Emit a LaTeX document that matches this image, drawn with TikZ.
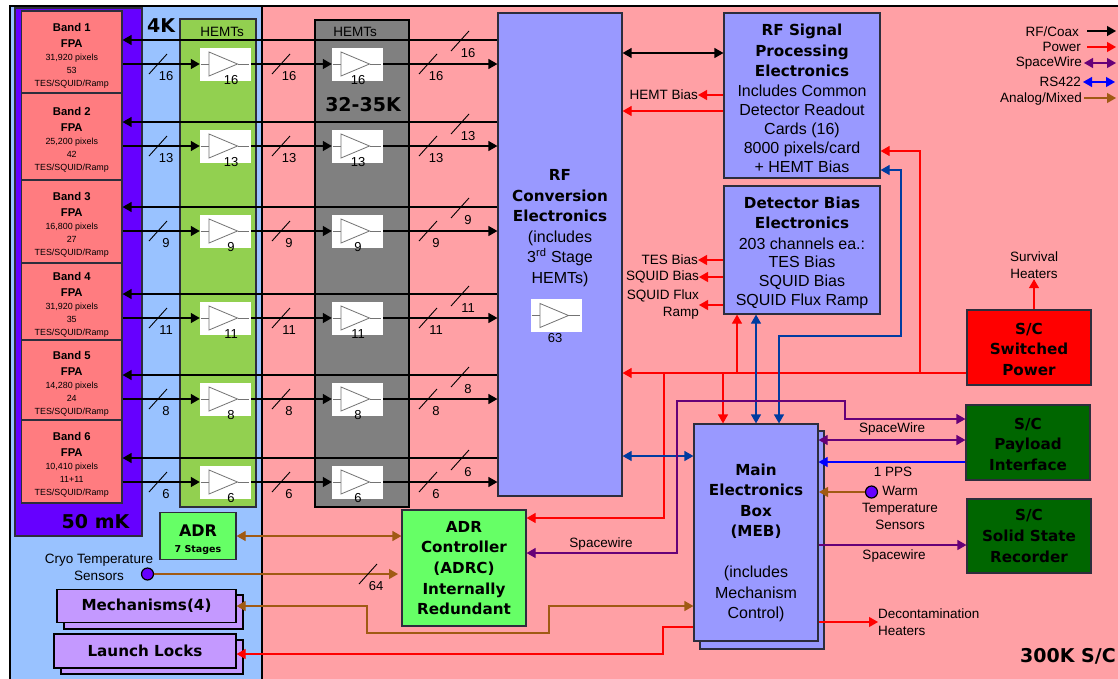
\documentclass[tikz,border=0pt]{standalone}
\usepackage{fontspec}
\setmainfont{Liberation Sans}
\newfontfamily\headfont{DejaVu Sans}
\usetikzlibrary{arrows.meta}

\definecolor{coldblue}{RGB}{153,194,255}
\definecolor{warmpink}{RGB}{255,160,165}
\definecolor{fiftymk}{RGB}{102,0,255}
\definecolor{bandred}{RGB}{255,124,128}
\definecolor{hemtgreen}{RGB}{146,208,80}
\definecolor{hemtgray}{RGB}{128,128,128}
\definecolor{boxblue}{RGB}{153,153,255}
\definecolor{adrgreen}{RGB}{102,255,102}
\definecolor{scgreen}{RGB}{0,102,0}
\definecolor{mechpurple}{RGB}{196,153,255}
\definecolor{edgegray}{RGB}{45,45,60}
\definecolor{brownline}{RGB}{160,90,20}
\definecolor{purpleline}{RGB}{102,0,120}
\definecolor{navyline}{RGB}{0,60,160}

\tikzset{
    >={Triangle[length=9pt,width=10pt]},
    panel/.style={draw=black, line width=1.2pt, inner sep=0pt},
    hwbox/.style={draw=edgegray, line width=1.2pt, inner sep=0pt, align=center},
    bandbox/.style={hwbox, fill=bandred, minimum width=100.5, font=\fontsize{8.9}{13}\selectfont},
    bluebox/.style={hwbox, fill=boxblue, minimum width=124},
    boxtext/.style={inner sep=0pt, align=center, font=\fontsize{16}{18.9}\selectfont},
    scbox/.style={hwbox, minimum width=124, font=\fontsize{15.2}{20.7}\headfont\bfseries},
    mechbox/.style={hwbox, draw=black, fill=mechpurple, font=\fontsize{15.2}{18}\headfont\bfseries},
    tempname/.style={inner sep=0pt, font=\fontsize{19}{20}\headfont\bfseries},
    textlabel/.style={inner sep=0pt, align=center, font=\fontsize{13.5}{17}\selectfont},
    cntlabel/.style={inner sep=0pt, font=\fontsize{13}{14}\selectfont},
    sensor/.style={circle, draw=black, line width=1.2pt, fill=fiftymk, minimum size=12, inner sep=0pt},
    ampbox/.style={fill=white, minimum width=51, minimum height=33, inner sep=0pt},
    ampline/.style={draw=black!55, line width=0.8pt},
    rfline/.style={draw=black, line width=1.3pt},
    pwrline/.style={draw=red, line width=1.2pt},
    wireline/.style={draw=purpleline, line width=1.2pt},
    navy/.style={draw=navyline, line width=1.2pt},
    rsline/.style={draw=blue, line width=1.2pt},
    mixline/.style={draw=brownline, line width=1.2pt},
    hemtamp/.pic={
        \node[ampbox] (-box) at (0,0) {};
        \draw[ampline] (-16.5,-12) -- (12,0) -- (-16.5,12) -- cycle;
        \draw[ampline] (-25,0) -- (-16.5,0);
        \draw[ampline] (12,0) -- (23,0);
    },
    bustick/.pic={
        \draw[black, line width=0.9pt] (-9,10) -- (9,-10);
        \node[cntlabel] (-num) at (8,12) {#1};
    }
}

\newcommand{\bandhead}[1]{{\fontsize{11.3}{13}\selectfont\bfseries #1}}
\newcommand{\bandtop}{\rule{0pt}{15pt}}
\newcommand{\hd}[1]{{\fontsize{15.2}{20}\headfont\bfseries\selectfont #1}}

\begin{document}
\begin{tikzpicture}[x=1pt, y=-1pt]
    \useasboundingbox (0,0) rectangle (1118,678);

    % temperature zones
    \node[panel, fill=warmpink, minimum width=876, minimum height=678] (warm) at (700,345) {};
    \node[panel, fill=coldblue, minimum width=252, minimum height=678] (cold) at (136,345) {};
    \node[hwbox, fill=fiftymk, minimum width=127, minimum height=528] (mk) at (78.5,272) {};
    \node[hwbox, fill=hemtgreen, minimum width=76, minimum height=488] (hemta) at (218,263) {};
    \node[hwbox, draw=black, fill=hemtgray, minimum width=94, minimum height=487] (hemtb) at (362,263.5) {};
    \node[tempname] (mklabel) at (95.5,522) {50 mK};
    \node[tempname] (fourk) at (161,26) {4K};
    \node[tempname] (midk) at (363,105) {32-35K};
    \node[tempname] (roomk) at (1068,656) {300K S/C};
    \node[textlabel] (hemtatext) at (222,32) {HEMTs};
    \node[textlabel] (hemtbtext) at (355,32) {HEMTs};

    % focal planes
    \node[bandbox, minimum height=82] (band1) at (71.75,52) {\bandtop\bandhead{Band 1}\\[3pt] \bandhead{FPA}\\ 31,920 pixels\\ 53\\ TES/SQUID/Ramp};
    \node[bandbox, minimum height=87] (band2) at (71.75,136.5) {\bandtop\bandhead{Band 2}\\[3pt] \bandhead{FPA}\\ 25,200 pixels\\ 42\\ TES/SQUID/Ramp};
    \node[bandbox, minimum height=83] (band3) at (71.75,221.5) {\bandtop\bandhead{Band 3}\\[3pt] \bandhead{FPA}\\ 16,800 pixels\\ 27\\ TES/SQUID/Ramp};
    \node[bandbox, minimum height=77] (band4) at (71.75,301.5) {\bandtop\bandhead{Band 4}\\[3pt] \bandhead{FPA}\\ 31,920 pixels\\ 35\\ TES/SQUID/Ramp};
    \node[bandbox, minimum height=80] (band5) at (71.75,380) {\bandtop\bandhead{Band 5}\\[3pt] \bandhead{FPA}\\ 14,280 pixels\\ 24\\ TES/SQUID/Ramp};
    \node[bandbox, minimum height=83] (band6) at (71.75,461.5) {\bandtop\bandhead{Band 6}\\[3pt] \bandhead{FPA}\\ 10,410 pixels\\ 11+11\\ TES/SQUID/Ramp};

    % electronics
    \node[bluebox, minimum height=483] (rfconv) at (560,254.5) {};
    \node[boxtext] (rfconvtext) at (560,228) {\hd{RF}\\[1.6pt] \hd{Conversion}\\[1.6pt] \hd{Electronics}\\[1.6pt] (includes\\[1.6pt] 3\textsuperscript{rd} Stage\\[1.6pt] HEMTs)};
    \node[bluebox, minimum width=156, minimum height=165] (rfsig) at (802,95.5) {};
    \node[boxtext] (rfsigtext) at (802,98.5) {\hd{RF Signal}\\[1.4pt] \hd{Processing}\\[1.4pt] \hd{Electronics}\\[1.4pt] Includes Common\\ Detector Readout\\ Cards (16)\\ 8000 pixels/card\\ + HEMT Bias};
    \node[bluebox, minimum width=156, minimum height=128] (detb) at (802,250) {};
    \node[boxtext] (detbtext) at (802,253) {\hd{Detector Bias}\\[1.4pt] \hd{Electronics}\\[1.4pt] 203 channels ea.:\\ TES Bias\\ SQUID Bias\\ SQUID Flux Ramp};
    \node[bluebox, minimum height=218] (mebback) at (762,540) {};
    \node[bluebox, minimum height=217] (meb) at (756,532.5) {};
    \node[boxtext] (mebtext) at (756,543) {\hd{Main}\\[1.6pt] \hd{Electronics}\\[1.6pt] \hd{Box}\\[1.6pt] \hd{(MEB)}\\[22pt] (includes\\[1.6pt] Mechanism\\[1.6pt] Control)};
    \node[scbox, fill=red, minimum height=75] (switched) at (1029,347.5) {\rule{0pt}{15pt}S/C\\ Switched\\ Power};
    \node[scbox, fill=scgreen, minimum height=75] (payload) at (1028,442.5) {\rule{0pt}{15pt}S/C\\ Payload\\ Interface};
    \node[scbox, fill=scgreen, minimum height=74] (ssr) at (1029,536) {S/C\\ Solid State\\ Recorder};
    \node[scbox, fill=adrgreen, minimum height=116] (adrc) at (464,568) {ADR\\ Controller\\ (ADRC)\\ Internally\\ Redundant};
    \node[scbox, fill=adrgreen, minimum width=76, minimum height=47] (adr) at (198,536) {\rule{0pt}{19pt}{\fontsize{16}{16}\selectfont ADR}\\[-4pt] {\fontsize{9.5}{11}\selectfont 7 Stages}};
    \node[mechbox, minimum width=179, minimum height=34] (mechback) at (153.5,612) {};
    \node[mechbox, minimum width=179, minimum height=33] (mech) at (146.5,606) {Mechanisms(4)};
    \node[mechbox, minimum width=182, minimum height=34] (lockback) at (152,657) {};
    \node[mechbox, minimum width=182, minimum height=34] (lock) at (145,651) {Launch Locks};

    % amplifiers
    \pic (a1) at (225.5,64) {hemtamp};
    \pic (a2) at (225.5,146) {hemtamp};
    \pic (a3) at (225.5,231) {hemtamp};
    \pic (a4) at (225.5,318) {hemtamp};
    \pic (a5) at (225.5,399) {hemtamp};
    \pic (a6) at (225.5,482) {hemtamp};
    \pic (b1) at (357.5,64) {hemtamp};
    \pic (b2) at (357.5,146) {hemtamp};
    \pic (b3) at (357.5,231) {hemtamp};
    \pic (b4) at (357.5,318) {hemtamp};
    \pic (b5) at (357.5,399) {hemtamp};
    \pic (b6) at (357.5,482) {hemtamp};
    \pic (c1) at (556.5,315.5) {hemtamp};
    \node[cntlabel] (na1) at (231,80) {16};
    \node[cntlabel] (na2) at (231,162) {13};
    \node[cntlabel] (na3) at (231,247) {9};
    \node[cntlabel] (na4) at (231,334) {11};
    \node[cntlabel] (na5) at (231,415) {8};
    \node[cntlabel] (na6) at (231,498) {6};
    \node[cntlabel] (nb1) at (358,80) {16};
    \node[cntlabel] (nb2) at (358,162) {13};
    \node[cntlabel] (nb3) at (358,247) {9};
    \node[cntlabel] (nb4) at (358,334) {11};
    \node[cntlabel] (nb5) at (358,415) {8};
    \node[cntlabel] (nb6) at (358,498) {6};
    \node[cntlabel] (nc1) at (555,338) {63};

    % signal chains, band to RF conversion
    \draw[rfline,->] (band1.east |- a1-box.west) -- (a1-box.west);
    \draw[rfline,->] (a1-box.east) -- (b1-box.west);
    \draw[rfline,->] (b1-box.east) -- (rfconv.west |- b1-box.east);
    \draw[rfline,->] (rfconv.west |- 0,40) -- (band1.east |- 0,40);
    \draw[rfline,->] (band2.east |- a2-box.west) -- (a2-box.west);
    \draw[rfline,->] (a2-box.east) -- (b2-box.west);
    \draw[rfline,->] (b2-box.east) -- (rfconv.west |- b2-box.east);
    \draw[rfline,->] (rfconv.west |- 0,122) -- (band2.east |- 0,122);
    \draw[rfline,->] (band3.east |- a3-box.west) -- (a3-box.west);
    \draw[rfline,->] (a3-box.east) -- (b3-box.west);
    \draw[rfline,->] (b3-box.east) -- (rfconv.west |- b3-box.east);
    \draw[rfline,->] (rfconv.west |- 0,207) -- (band3.east |- 0,207);
    \draw[rfline,->] (band4.east |- a4-box.west) -- (a4-box.west);
    \draw[rfline,->] (a4-box.east) -- (b4-box.west);
    \draw[rfline,->] (b4-box.east) -- (rfconv.west |- b4-box.east);
    \draw[rfline,->] (rfconv.west |- 0,294) -- (band4.east |- 0,294);
    \draw[rfline,->] (band5.east |- a5-box.west) -- (a5-box.west);
    \draw[rfline,->] (a5-box.east) -- (b5-box.west);
    \draw[rfline,->] (b5-box.east) -- (rfconv.west |- b5-box.east);
    \draw[rfline,->] (rfconv.west |- 0,375) -- (band5.east |- 0,375);
    \draw[rfline,->] (band6.east |- a6-box.west) -- (a6-box.west);
    \draw[rfline,->] (a6-box.east) -- (b6-box.west);
    \draw[rfline,->] (b6-box.east) -- (rfconv.west |- b6-box.east);
    \draw[rfline,->] (rfconv.west |- 0,458) -- (band6.east |- 0,458);

    % bus widths
    \pic (t1a) at (158,64) {bustick=16};
    \pic (t1b) at (281,64) {bustick=16};
    \pic (t1c) at (428,64) {bustick=16};
    \pic (t1d) at (460,41) {bustick=16};
    \pic (t2a) at (158,146) {bustick=13};
    \pic (t2b) at (281,146) {bustick=13};
    \pic (t2c) at (428,146) {bustick=13};
    \pic (t2d) at (460,124) {bustick=13};
    \pic (t3a) at (158,231) {bustick=9};
    \pic (t3b) at (281,231) {bustick=9};
    \pic (t3c) at (428,231) {bustick=9};
    \pic (t3d) at (460,208) {bustick=9};
    \pic (t4a) at (158,318) {bustick=11};
    \pic (t4b) at (281,318) {bustick=11};
    \pic (t4c) at (428,318) {bustick=11};
    \pic (t4d) at (460,296) {bustick=11};
    \pic (t5a) at (158,399) {bustick=8};
    \pic (t5b) at (281,399) {bustick=8};
    \pic (t5c) at (428,399) {bustick=8};
    \pic (t5d) at (460,377) {bustick=8};
    \pic (t6a) at (158,482) {bustick=6};
    \pic (t6b) at (281,482) {bustick=6};
    \pic (t6c) at (428,482) {bustick=6};
    \pic (t6d) at (460,460) {bustick=6};

    % right hand labels
    \node[textlabel, anchor=east] (hemtbias) at (698,95) {HEMT Bias};
    \node[textlabel, anchor=east] (tesbias) at (698,260) {TES Bias};
    \node[textlabel, anchor=east] (squidbias) at (699,277) {SQUID Bias};
    \node[textlabel, anchor=east, align=right] (squidflux) at (699,305) {SQUID Flux\\ Ramp};
    \node[textlabel] (survival) at (1034,265.5) {Survival\\ Heaters};
    \node[textlabel] (swtop) at (892,429) {SpaceWire};
    \node[textlabel] (pps) at (893,472) {1 PPS};
    \node[textlabel] (warmtemp) at (900,507.5) {Warm\\ Temperature\\ Sensors};
    \node[textlabel] (swbot) at (894,556) {Spacewire};
    \node[textlabel] (swadrc) at (601,544) {Spacewire};
    \node[textlabel, anchor=west, align=left] (decon) at (878,622) {Decontamination\\ Heaters};
    \node[textlabel] (cryotext) at (99,567) {Cryo Temperature\\ Sensors};
    \node[sensor] (warmdot) at (871.5,492) {};
    \node[sensor] (cryodot) at (147.5,574) {};

    % legend
    \node[textlabel, anchor=east] (lgrf) at (1079,32) {RF/Coax};
    \node[textlabel, anchor=east] (lgpwr) at (1081,47) {Power};
    \node[textlabel, anchor=east] (lgwire) at (1082,63) {SpaceWire};
    \node[textlabel, anchor=east] (lgrs) at (1081,82) {RS422};
    \node[textlabel, anchor=east] (lgmix) at (1082,99) {Analog/Mixed};
    \coordinate (lgrfend) at (1116,31);
    \coordinate (lgpwrend) at (1116,47);
    \coordinate (lgwireend) at (1116,63);
    \coordinate (lgrsend) at (1115,82);
    \coordinate (lgmixend) at (1116,98);
    \draw[rfline,->] ([xshift=8pt]lgrf.east |- lgrfend) -- (lgrfend);
    \draw[pwrline,->] ([xshift=6pt]lgpwr.east |- lgpwrend) -- (lgpwrend);
    \draw[wireline,<->] ([xshift=2pt]lgwire.east |- lgwireend) -- (lgwireend);
    \draw[rsline,<->] ([xshift=2pt]lgrs.east |- lgrsend) -- (lgrsend);
    \draw[mixline,->] ([xshift=2pt]lgmix.east |- lgmixend) -- (lgmixend);

    % rf and bias outputs
    \draw[rfline,<->] (rfconv.east |- 0,53) -- (rfsig.west |- 0,53);
    \draw[pwrline,->] (rfsig.west |- hemtbias.east) -- (hemtbias.east);
    \draw[pwrline,->] (rfsig.west |- 0,111) -- (rfconv.east |- 0,111);
    \draw[pwrline,->] (detb.west |- tesbias.east) -- (tesbias.east);
    \draw[pwrline,->] (detb.west |- squidbias.east) -- (squidbias.east);
    \draw[pwrline,->] (detb.west |- squidflux.east) -- (squidflux.east);
    \draw[pwrline,->] (switched.north -| survival.south) -- (survival.south);

    % switched power
    \coordinate (pwrbus) at (0,373);
    \draw[pwrline,->] (switched.west |- pwrbus) -- (rfconv.east |- pwrbus);
    \draw[pwrline,->] (920,373) -- (920,151) -- (rfsig.east |- 0,151);
    \draw[pwrline,->] (737,373) -- (detb.south -| 737,0);
    \draw[pwrline,->] (723,373) -- (meb.north -| 723,0);
    \draw[pwrline,->] (664,373) -- (664,518) -- (adrc.east |- 0,518);

    % meb control lines
    \draw[navy,<->] (meb.north) -- (detb.south -| meb.north);
    \draw[navy,<->] (meb.north -| 779,0) -- (779,336) -- (901,336) -- (901,170) -- (rfsig.east |- 0,170);
    \draw[navy,<->] (rfconv.east |- 0,456) -- (meb.west |- 0,456);
    \draw[wireline,<->] (adrc.east |- 0,553) -- (677,553) -- (677,401) -- (845,401) -- (845,419) -- (payload.west |- 0,419);
    \draw[wireline,<->] (meb.east |- 0,440) -- (payload.west |- 0,440);
    \draw[rsline,->] (payload.west |- 0,462) -- (meb.east |- 0,462);
    \draw[mixline,->] (warmdot.west) -- (819,492);
    \draw[wireline,->] (meb.east |- 0,545) -- (ssr.west |- 0,545);
    \draw[pwrline,->] (meb.east |- decon.west) -- (decon.west);

    % left side of the meb and the adr
    \draw[mixline,<->] (adr.east) -- (adrc.west |- adr.east);
    \draw[mixline,->] (cryodot.east) -- (398,574);
    \pic (t7) at (368,574) {bustick=64};
    \draw[mixline,<->] (mech.east) -- (367,606) -- (367,633) -- (549,633) -- (549,606) -- (meb.west |- 0,606);
    \draw[pwrline,->] (meb.west |- 0,627) -- (663,627) -- (663,654) -- (lock.east |- 0,654);
\end{tikzpicture}
\end{document}
